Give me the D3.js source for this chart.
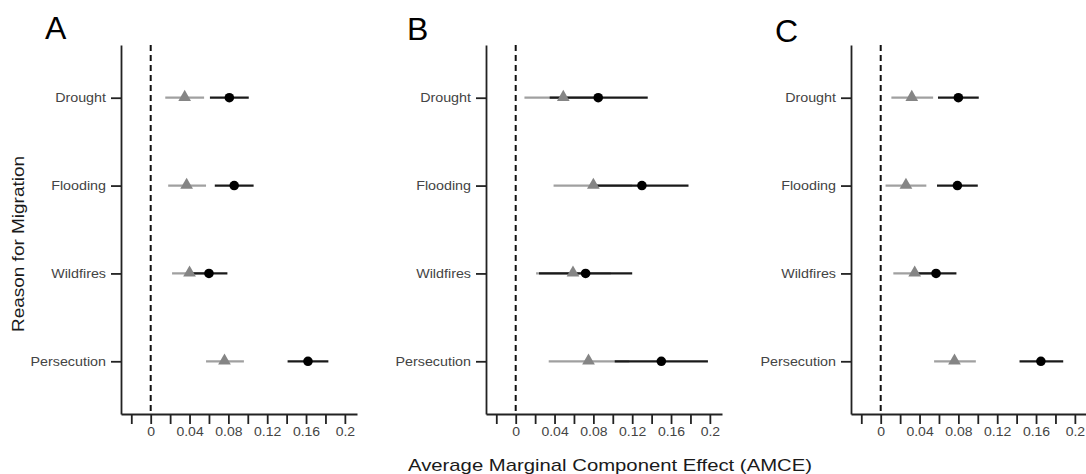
<!DOCTYPE html>
<html>
<head>
<meta charset="utf-8">
<script src="https://cdn.jsdelivr.net/npm/d3@7"></script>
<style>
  body { margin: 0; background: #fff; }
  svg { display: block; font-family: "Liberation Sans", Arial, sans-serif; }
</style>
</head>
<body>
<div id="chart"></div>
<script>
// categories and panels
var reasons = ["Drought", "Flooding", "Wildfires", "Persecution"];
var panelNames = ["A", "B", "C"];

// x ticks
var xTicks = [-0.02, 0, 0.02, 0.04, 0.06, 0.08, 0.1, 0.12, 0.14, 0.16, 0.18, 0.2];
var xTickLabels = ["", "0", "", "0.04", "", "0.08", "", "0.12", "", "0.16", "", "0.2"];

// grey triangles (estimate, lower, upper) per panel
var triEst = [[0.035, 0.037, 0.040, 0.076], [0.049, 0.080, 0.059, 0.075], [0.032, 0.026, 0.035, 0.076]];
var triLo  = [[0.015, 0.018, 0.022, 0.057], [0.009, 0.039, 0.021, 0.034], [0.011, 0.005, 0.013, 0.055]];
var triHi  = [[0.055, 0.057, 0.057, 0.096], [0.090, 0.120, 0.098, 0.117], [0.054, 0.047, 0.057, 0.098]];

// black circles (estimate, lower, upper) per panel
var dotEst = [[0.081, 0.086, 0.060, 0.162], [0.085, 0.130, 0.072, 0.150], [0.080, 0.079, 0.057, 0.165]];
var dotLo  = [[0.061, 0.066, 0.041, 0.141], [0.035, 0.082, 0.024, 0.102], [0.059, 0.058, 0.036, 0.143]];
var dotHi  = [[0.101, 0.106, 0.079, 0.183], [0.136, 0.178, 0.120, 0.198], [0.101, 0.100, 0.078, 0.188]];

var width = 1086, height = 474;
var panelLeft = [121, 486, 851];
var panelW = 236;
var plotTop = 45, plotBottom = 414;

var svg = d3.select("#chart").append("svg")
  .attr("width", width)
  .attr("height", height);

var y = d3.scalePoint().domain(reasons).range([plotTop, plotBottom]).padding(0.6);

// stretch text a bit wider, the source font is wider than Arial
function widen(sel, f) {
  sel.each(function () {
    var len = this.getComputedTextLength();
    if (len > 0) {
      d3.select(this).attr("textLength", len * f).attr("lengthAdjust", "spacingAndGlyphs");
    }
  });
}

panelNames.forEach(function (name, p) {
  var left = panelLeft[p];
  var x = d3.scaleLinear().domain([-0.0306, 0.2125]).range([left, left + panelW]);
  var g = svg.append("g");

  // dashed zero line
  g.append("line")
    .attr("x1", x(0)).attr("x2", x(0))
    .attr("y1", plotTop).attr("y2", plotBottom)
    .attr("stroke", "#111")
    .attr("stroke-width", 2)
    .attr("stroke-dasharray", "6,4");

  // axes
  var xAxis = g.append("g")
    .attr("transform", "translate(0," + plotBottom + ")")
    .call(d3.axisBottom(x).tickValues(xTicks).tickSize(10).tickSizeOuter(0).tickPadding(3)
      .tickFormat(function (d, i) { return xTickLabels[i]; }));
  var yAxis = g.append("g")
    .attr("transform", "translate(" + left + ",0)")
    .call(d3.axisLeft(y).tickSize(10).tickSizeOuter(0).tickPadding(5));

  [xAxis, yAxis].forEach(function (ax) {
    ax.select(".domain").attr("stroke", "#222").attr("stroke-width", 1.8);
    ax.selectAll(".tick line").attr("stroke", "#222").attr("stroke-width", 1.8);
    ax.selectAll("text").attr("fill", "#444").attr("font-family", "Liberation Sans, Arial, sans-serif");
  });
  xAxis.selectAll("text").attr("font-size", 12.5);
  yAxis.selectAll("text").attr("font-size", 13);
  widen(xAxis.selectAll("text"), 1.12);
  widen(yAxis.selectAll("text"), 1.1);

  // error bars: grey first, black on top
  g.selectAll(".tri-bar").data(reasons).enter().append("line")
    .attr("x1", function (d, i) { return x(triLo[p][i]); })
    .attr("x2", function (d, i) { return x(triHi[p][i]); })
    .attr("y1", function (d) { return y(d); })
    .attr("y2", function (d) { return y(d); })
    .attr("stroke", "#a0a0a0")
    .attr("stroke-width", 2.2);

  g.selectAll(".dot-bar").data(reasons).enter().append("line")
    .attr("x1", function (d, i) { return x(dotLo[p][i]); })
    .attr("x2", function (d, i) { return x(dotHi[p][i]); })
    .attr("y1", function (d) { return y(d); })
    .attr("y2", function (d) { return y(d); })
    .attr("stroke", "#1a1a1a")
    .attr("stroke-width", 2.2);

  // triangles
  g.selectAll(".tri").data(reasons).enter().append("path")
    .attr("d", d3.symbol().type(d3.symbolTriangle).size(70))
    .attr("transform", function (d, i) { return "translate(" + x(triEst[p][i]) + "," + (y(d) - 0.5) + ")"; })
    .attr("fill", "#858585");

  // circles
  g.selectAll(".dot").data(reasons).enter().append("circle")
    .attr("cx", function (d, i) { return x(dotEst[p][i]); })
    .attr("cy", function (d) { return y(d); })
    .attr("r", 4.8)
    .attr("fill", "#000");
});

// panel letters
var letterX = [45, 407, 775];
var letterY = [39, 40, 42];
panelNames.forEach(function (name, p) {
  svg.append("text")
    .attr("x", letterX[p]).attr("y", letterY[p])
    .attr("font-size", 32)
    .attr("fill", "#000")
    .text(name);
});

// axis titles
svg.append("text")
  .attr("x", 610).attr("y", 471)
  .attr("text-anchor", "middle")
  .attr("font-size", 17)
  .attr("fill", "#1a1a1a")
  .attr("textLength", 404)
  .attr("lengthAdjust", "spacingAndGlyphs")
  .text("Average Marginal Component Effect (AMCE)");

svg.append("text")
  .attr("transform", "translate(24,244) rotate(-90)")
  .attr("text-anchor", "middle")
  .attr("font-size", 16)
  .attr("fill", "#1a1a1a")
  .attr("textLength", 176)
  .attr("lengthAdjust", "spacingAndGlyphs")
  .text("Reason for Migration");
</script>
</body>
</html>
